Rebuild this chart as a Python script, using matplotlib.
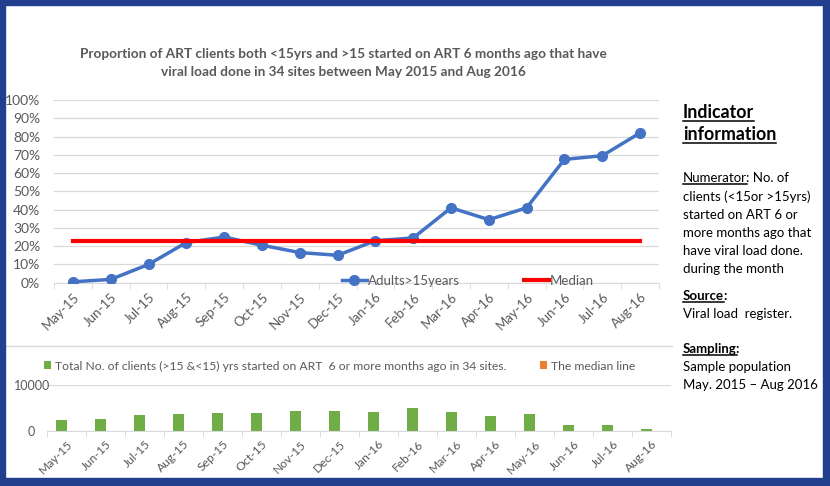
import matplotlib
matplotlib.use("Agg")
import matplotlib.pyplot as plt
from matplotlib import font_manager
from matplotlib.patches import Rectangle
from matplotlib.lines import Line2D

# data
months = ['May-15', 'Jun-15', 'Jul-15', 'Aug-15', 'Sep-15', 'Oct-15', 'Nov-15', 'Dec-15',
          'Jan-16', 'Feb-16', 'Mar-16', 'Apr-16', 'May-16', 'Jun-16', 'Jul-16', 'Aug-16']
adults_pct = [0.5, 1.8, 10, 22, 25, 20.5, 16.5, 15, 23, 24.5, 41, 34.5, 41, 67.5, 69.5, 82]
median_pct = 22.8
total_clients = [2440, 2660, 3520, 3740, 3950, 3950, 4380, 4380,
                 4170, 5030, 4170, 3310, 3740, 1360, 1360, 500]
median_bar = [0] * 16
pct_ticks = list(range(0, 101, 10))

title = ("Proportion of ART clients both <15yrs and >15 started on ART 6 months ago that have\n"
         "viral load done in 34 sites between May 2015 and Aug 2016")
bar_label = "Total No. of clients (>15 &<15) yrs started on ART  6 or more months ago in 34 sites."


def has_font(name):
    try:
        font_manager.findfont(name, fallback_to_default=False)
        return True
    except Exception:
        return False


narrow = 'Liberation Sans Narrow' if has_font('Liberation Sans Narrow') else 'Lato'
plt.rcParams['font.family'] = ['Lato', 'DejaVu Sans']

GREY = '#595959'
GRID = '#D9D9D9'
W, H = 830, 486


def fx(px):
    return px / W


def fy(py):
    return 1 - py / H


fig = plt.figure(figsize=(8.3, 4.86), dpi=100)
x = list(range(len(months)))

# ---- top line chart
ax1 = fig.add_axes([fx(54), fy(282.7), fx(659 - 54), (282.7 - 100) / H])
l1, = ax1.plot(x, adults_pct, color='#4472C4', lw=2.5, marker='o', ms=7, zorder=3)
l2, = ax1.plot(x, [median_pct] * len(x), color='#FF0000', lw=3, zorder=4)
ax1.set_xlim(-0.5, len(x) - 0.5)
ax1.set_ylim(0, 100)
ax1.set_yticks(pct_ticks)
ax1.set_yticklabels(['%d%%' % v for v in pct_ticks], fontsize=10, color=GREY)
ax1.set_xticks(x)
ax1.set_xticklabels(months, rotation=45, ha='right', va='top', rotation_mode='anchor',
                    fontsize=9.5, color=GREY)
ax1.set_xticks([i - 0.5 for i in range(len(x) + 1)], minor=True)
ax1.tick_params(axis='x', which='major', length=0, pad=6)
ax1.tick_params(axis='x', which='minor', length=4, color=GRID)
ax1.tick_params(axis='y', length=0, pad=10)
ax1.yaxis.grid(True, color=GRID, lw=0.9)
ax1.set_axisbelow(True)
for s in ['top', 'right', 'left']:
    ax1.spines[s].set_visible(False)
ax1.spines['bottom'].set_color(GRID)
ax1.legend([l1, l2], ['Adults>15years', 'Median'], ncol=2, frameon=False,
           loc='center', bbox_to_anchor=(fx(468), fy(281)), bbox_transform=fig.transFigure,
           fontsize=9.5, labelcolor=GREY, handlelength=1.9, handletextpad=0.1,
           columnspacing=4.8, borderpad=0)

# ---- bottom bar chart
ax2 = fig.add_axes([fx(47), fy(431.3), fx(671 - 47), (431.3 - 385) / H])
b1 = ax2.bar([i - 0.14 for i in x], total_clients, width=0.28, color='#70AD47')
b2 = ax2.bar([i + 0.14 for i in x], median_bar, width=0.28, color='#ED7D31')
ax2.set_xlim(-0.5, len(x) - 0.5)
ax2.set_ylim(0, 10000)
ax2.set_yticks([0, 10000])
ax2.set_yticklabels(['0', '10000'], fontsize=9, color=GREY, ha='center')
ax2.tick_params(axis='y', length=0, pad=11)
ax2.set_xticks(x)
ax2.set_xticklabels(months, rotation=45, ha='right', va='top', rotation_mode='anchor',
                    fontsize=8.7, color=GREY)
ax2.set_xticks([i - 0.5 for i in range(len(x) + 1)], minor=True)
ax2.tick_params(axis='x', which='major', length=0, pad=5)
ax2.tick_params(axis='x', which='minor', length=4, color=GRID)
ax2.yaxis.grid(True, color=GRID, lw=0.9)
ax2.set_axisbelow(True)
for s in ['top', 'right', 'left']:
    ax2.spines[s].set_visible(False)
ax2.spines['bottom'].set_color(GRID)
ax2.legend([b1, b2], [bar_label, 'The median line'], ncol=2, frameon=False,
           loc='center left', bbox_to_anchor=(fx(38), fy(366)), bbox_transform=fig.transFigure,
           fontsize=8.7, labelcolor=GREY, handlelength=0.6, handleheight=0.6,
           handletextpad=0.3, columnspacing=2.8, borderpad=0)

# separator between the two charts
fig.add_artist(Line2D([fx(5), fx(672)], [fy(346), fy(346)], color=GRID, lw=1))

# ---- title
fig.text(fx(343), fy(62.5), title, ha='center', va='center', fontsize=9.8,
         fontweight='bold', color=GREY, family=narrow, linespacing=1.6)

# ---- indicator panel
X0 = 683
FS = 9.5
renderer = fig.canvas.get_renderer()


def under(t, off=2):
    bb = t.get_window_extent(renderer)
    y = t.get_position()[1] * H - off
    fig.add_artist(Line2D([bb.x0 / W, bb.x1 / W], [y / H, y / H], color='black', lw=1.1))
    return bb.x1


for txt, yb in [('Indicator', 118), ('information', 140)]:
    t = fig.text(fx(X0), fy(yb), txt, fontsize=12.8, fontweight='bold', va='baseline')
    under(t, 3)

body = [('clients (<15or >15yrs)', 201), ('started on ART 6 or', 219),
        ('more months ago that', 237), ('have viral load done.', 255),
        ('during the month', 273), ('Viral load  register.', 318),
        ('Sample population', 371), ('May. 2015 \u2013 Aug 2016', 389)]
for txt, yb in body:
    fig.text(fx(X0), fy(yb), txt, fontsize=FS, va='baseline')

heads = [('Numerator', ': No. of', 182, 'normal'), ('Source', ':', 300, 'bold'),
         ('Sampling', ':', 353, 'bold')]
for word, rest, yb, wt in heads:
    t = fig.text(fx(X0), fy(yb), word, fontsize=FS, va='baseline', fontweight=wt)
    xe = under(t, 2)
    fig.text((xe - 1) / W, fy(yb), rest, fontsize=FS, va='baseline', fontweight=wt)

# ---- blue frame
BLUE = '#223F8E'
for r in [(0, 0, 5, H), (0, 0, W, 5), (823, 0, 7, H), (0, 478, W, 8)]:
    fig.add_artist(Rectangle((fx(r[0]), fy(r[1] + r[3])), r[2] / W, r[3] / H,
                             transform=fig.transFigure, color=BLUE, zorder=10))

fig.savefig('out.png', dpi=100)
